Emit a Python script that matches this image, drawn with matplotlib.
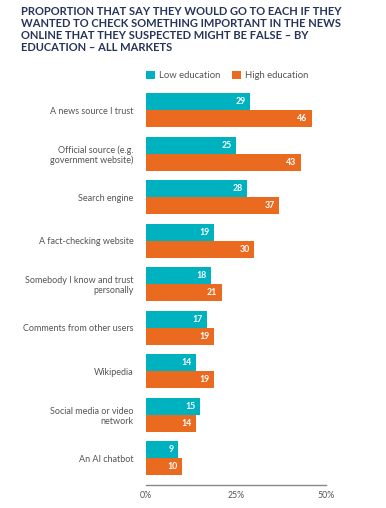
import matplotlib.pyplot as plt
import numpy as np

plt.rcParams["font.family"] = ["Lato", "DejaVu Sans"]

categories = [
    "A news source I trust",
    "Official source (e.g.\ngovernment website)",
    "Search engine",
    "A fact-checking website",
    "Somebody I know and trust\npersonally",
    "Comments from other users",
    "Wikipedia",
    "Social media or video\nnetwork",
    "An AI chatbot",
]
low_edu = [29, 25, 28, 19, 18, 17, 14, 15, 9]
high_edu = [46, 43, 37, 30, 21, 19, 19, 14, 10]
xticks = [0, 25, 50]

TEAL = "#00b1bf"
ORANGE = "#ea6a1f"
NAVY = "#27345a"
GREY = "#555555"

W, H = 386, 508
fig = plt.figure(figsize=(W / 100, H / 100), dpi=100)
ax = fig.add_axes([146 / W, 1 - 485 / H, 180 / W, (485 - 90) / H])

y = np.arange(len(categories))
bh = 0.39
ax.barh(y - bh / 2, low_edu, height=bh, color=TEAL, label="Low education")
ax.barh(y + bh / 2, high_edu, height=bh, color=ORANGE, label="High education")

for i, (lo, hi) in enumerate(zip(low_edu, high_edu)):
    ax.text(lo - 1.2, i - bh / 2, str(lo), ha="right", va="center",
            color="white", fontsize=6.3, fontweight="bold")
    ax.text(hi - 1.2, i + bh / 2, str(hi), ha="right", va="center",
            color="white", fontsize=6.3, fontweight="bold")

ax.set_xlim(0, 50)
ax.set_ylim(8.61, -0.47)
ax.set_yticks(y)
ax.set_yticklabels(categories, fontsize=6.5, color=GREY, linespacing=1.1)
ax.tick_params(axis="y", length=0, pad=9)
ax.set_xticks(xticks)
ax.set_xticklabels([f"{t}%" for t in xticks], fontsize=6.3, color=GREY)
ax.tick_params(axis="x", length=0, pad=4)
for s in ["top", "right", "left"]:
    ax.spines[s].set_visible(False)
ax.spines["bottom"].set_color("#888888")
ax.spines["bottom"].set_linewidth(1.0)

ax.legend(loc="lower left", bbox_to_anchor=(146 / W, 1 - 80 / H),
          bbox_transform=fig.transFigure, ncol=2, frameon=False,
          fontsize=6.8, handlelength=1.0, handleheight=1.0,
          handletextpad=0.4, columnspacing=1.2, borderpad=0, borderaxespad=0,
          labelcolor=GREY)

fig.text(21 / W, 1 - 6 / H,
         "PROPORTION THAT SAY THEY WOULD GO TO EACH IF THEY\n"
         "WANTED TO CHECK SOMETHING IMPORTANT IN THE NEWS\n"
         "ONLINE THAT THEY SUSPECTED MIGHT BE FALSE \u2013 BY\n"
         "EDUCATION \u2013 ALL MARKETS",
         ha="left", va="top", fontsize=8.0, fontweight="bold", color=NAVY,
         linespacing=1.12)

fig.savefig("out.png", dpi=100)
